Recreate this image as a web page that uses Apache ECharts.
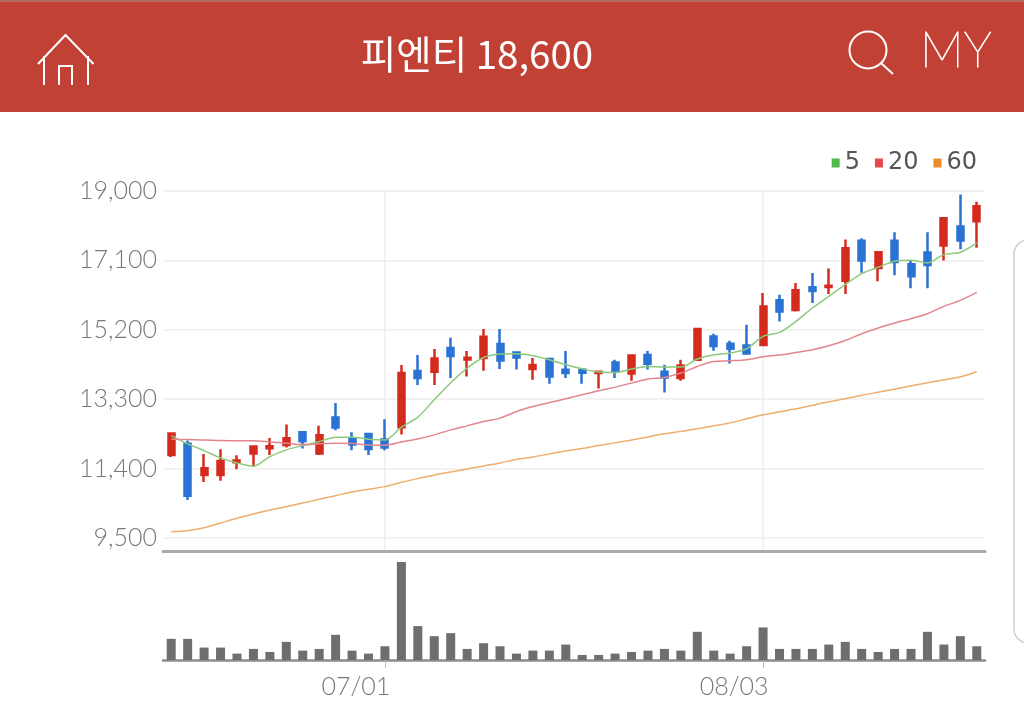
<!DOCTYPE html>
<html>
<head>
<meta charset="utf-8">
<style>
  html, body { margin: 0; padding: 0; background: #fff; }
  #chart { width: 1024px; height: 705px; }
</style>
<script src="https://cdn.jsdelivr.net/npm/echarts@6/dist/echarts.min.js"></script>
</head>
<body>
<div id="chart"></div>
<script>
const dates = [
  '06/12','06/15','06/16','06/17','06/18','06/19','06/22','06/23','06/24','06/25','06/26','06/29','06/30',
  '07/01','07/02','07/03','07/06','07/07','07/08','07/09','07/10','07/13','07/14','07/15','07/16','07/17',
  '07/20','07/21','07/22','07/23','07/24','07/27','07/28','07/29','07/30','07/31',
  '08/03','08/04','08/05','08/06','08/07','08/10','08/11','08/12','08/13','08/14','08/17','08/18','08/19','08/20'
]
const tickDates = ['07/01', '08/03']
const priceTicks = [9500, 11400, 13300, 15200, 17100, 19000]

// open, close, low, high
const candles = [
  [11775,12359,11720,12359],[12077,10659,10541,12167],[11226,11410,11035,11802],[11226,11610,11070,11931],
  [11575,11619,11383,11767],[11811,12002,11454,12002],[11959,12013,11775,12241],[12049,12233,11975,12606],
  [12397,12150,11948,12397],[11811,12315,11775,12570],[12798,12524,12452,13193],[12213,12057,11904,12397],
  [12350,11939,11775,12350],[12194,11975,11904,12754],[12534,14015,12332,14234],[14070,13878,13686,14509],
  [14051,14415,13686,14673],[14700,14481,13878,14983],[14388,14435,13922,14618],[14426,15011,14078,15221],
  [14810,14361,14125,15221],[14580,14443,14114,14580],[14125,14234,13831,14426],[14399,13922,13722,14399],
  [14106,14015,13878,14618],[14106,14023,13722,14152],[14015,14051,13593,14078],[14306,14078,13878,14380],
  [14004,14498,13804,14498],[14509,14270,14114,14618],[14051,13895,13483,14243],[13878,14223,13804,14380],
  [14380,15221,14361,15221],[15019,14755,14627,15093],[14818,14681,14278,14901],[14772,14553,14553,15339],
  [14783,15841,14764,16209],[16006,15704,15430,16162],[15743,16280,15704,16483],[16362,16263,15934,16757],
  [16373,16409,16181,16875],[16546,17432,16181,17670],[17635,17094,16765,17706],[16894,17322,16527,17360],
  [17635,17059,16691,17870],[16993,16664,16335,17094],[17314,16977,16335,17870],[17506,18254,17094,18254],
  [18027,17643,17404,18904],[18172,18583,17443,18704]
]
const ma5 = [
  12304,12077,11893,11693,11556,11465,11728,11912,12030,12140,12260,12260,12206,12186,12534,12809,13283,
  13749,14152,14443,14536,14544,14490,14380,14243,14133,14043,14032,14125,14196,14180,14180,14399,
  14517,14564,14681,15019,15128,15430,15797,16116,16436,16738,16911,17075,17103,17031,17259,17322,17580
]
const ma20 = [
  12205,12194,12186,12167,12159,12159,12131,12096,12057,12077,12096,12085,12049,12041,12131,12213,12323,
  12460,12570,12688,12781,12962,13099,13209,13310,13420,13530,13631,13741,13850,13894,14015,14196,
  14333,14352,14380,14462,14509,14580,14654,14764,14909,15093,15249,15386,15504,15641,15841,16006,16225
]
const ma60 = [
  9672,9699,9782,9910,10039,10157,10267,10357,10459,10560,10659,10760,10834,10906,11026,11125,11226,
  11309,11391,11473,11556,11651,11720,11802,11884,11953,12035,12104,12186,12268,12351,12419,12488,
  12570,12652,12762,12872,12954,13036,13132,13228,13310,13406,13489,13571,13667,13749,13831,13914,14051
]
const volumes = [
  63,63,37,37,19,33,24,54,28,33,75,28,19,41,292,101,71,80,33,50,41,19,28,28,46,
  15,15,19,24,28,33,28,84,28,19,41,97,33,33,33,46,54,33,24,33,33,84,46,71,41
]

const LIGHT_FONT = 'Lato'
const isTick = (i, name) => tickDates.includes(name)

const chart = echarts.init(document.getElementById('chart'), null, { renderer: 'canvas' })

const lineSeries = (name, data, color) => ({
  name: name,
  type: 'line',
  xAxisIndex: 0,
  yAxisIndex: 0,
  data: data,
  smooth: 0.3,
  symbol: 'none',
  lineStyle: { width: 1.5, color: color },
  itemStyle: { color: color },
  z: 3
})

chart.setOption({
  animation: false,
  backgroundColor: '#fff',
  title: {
    text: '피엔티 18,600',
    left: 472,
    top: 30,
    textAlign: 'center',
    textStyle: { color: '#fff', fontFamily: '"Noto Sans CJK KR"', fontWeight: 400, fontSize: 38.5 }
  },
  legend: {
    data: [
      { name: '5', itemStyle: { color: '#4fba4a' } },
      { name: '20', itemStyle: { color: '#e8474f' } },
      { name: '60', itemStyle: { color: '#f08c28' } }
    ],
    top: 146,
    right: 42,
    icon: 'rect',
    itemWidth: 8,
    itemHeight: 9,
    itemGap: 15,
    textStyle: { color: '#555', fontFamily: 'DejaVu Sans', fontSize: 24 }
  },
  grid: [
    { left: 163, right: 39, top: 191, bottom: 154 },
    { left: 163, right: 39, top: 562, bottom: 45 }
  ],
  xAxis: [
    {
      type: 'category',
      gridIndex: 0,
      data: dates,
      axisLine: { lineStyle: { color: '#aaa', width: 3 } },
      axisTick: { show: false },
      axisLabel: { show: false },
      splitLine: { show: true, interval: isTick, alignWithLabel: true, lineStyle: { color: '#ececf0', width: 1.5 } }
    },
    {
      type: 'category',
      gridIndex: 1,
      data: dates,
      axisLine: { lineStyle: { color: '#8c8c8c', width: 2.5 } },
      axisTick: { show: true, interval: isTick, alignWithLabel: true, length: 8, lineStyle: { color: '#bbb', width: 1 } },
      axisLabel: {
        interval: isTick,
        margin: 14,
        padding: [0, 58, 0, 0],
        color: '#777',
        fontFamily: LIGHT_FONT,
        fontWeight: 300,
        fontSize: 25
      }
    }
  ],
  yAxis: [
    {
      type: 'value',
      gridIndex: 0,
      min: 9144,
      max: 19000,
      axisLine: { show: false },
      axisTick: { show: false, customValues: priceTicks },
      axisLabel: {
        customValues: priceTicks,
        margin: 6,
        color: '#777',
        fontFamily: LIGHT_FONT,
        fontWeight: 300,
        fontSize: 25,
        formatter: v => v.toLocaleString('en-US')
      },
      splitLine: { show: true, lineStyle: { color: '#eeeeee', width: 1.5 } }
    },
    {
      type: 'value',
      gridIndex: 1,
      min: 0,
      max: 292,
      show: false
    }
  ],
  series: [
    {
      name: 'price',
      type: 'candlestick',
      xAxisIndex: 0,
      yAxisIndex: 0,
      data: candles,
      barWidth: 6.5,
      itemStyle: {
        color: '#d52a1e',
        color0: '#2a72d4',
        borderColor: '#d52a1e',
        borderColor0: '#2a72d4',
        borderWidth: 2.5
      },
      z: 2
    },
    lineSeries('5', ma5, '#8cc97c'),
    lineSeries('20', ma20, '#e2868e'),
    lineSeries('60', ma60, '#f0ae6c'),
    {
      name: 'volume',
      type: 'bar',
      xAxisIndex: 1,
      yAxisIndex: 1,
      data: volumes,
      barWidth: 9,
      itemStyle: { color: '#6e6e6e' }
    }
  ],
  graphic: [
    { type: 'rect', z: -1, silent: true, shape: { x: 0, y: 0, width: 1024, height: 112 }, style: { fill: '#c24135' } },
    { type: 'rect', z: -1, silent: true, shape: { x: 0, y: 0, width: 1024, height: 2 }, style: { fill: '#b06a5e' } },
    // home icon
    { type: 'polyline', silent: true, shape: { points: [[38, 64], [65.5, 35], [93.5, 64]] }, style: { stroke: '#fff', lineWidth: 2, fill: null } },
    { type: 'polyline', silent: true, shape: { points: [[44, 56], [44, 85]] }, style: { stroke: '#fff', lineWidth: 2, fill: null } },
    { type: 'polyline', silent: true, shape: { points: [[88, 56], [88, 85]] }, style: { stroke: '#fff', lineWidth: 2, fill: null } },
    { type: 'polyline', silent: true, shape: { points: [[59, 85], [59, 66], [72, 66], [72, 85]] }, style: { stroke: '#fff', lineWidth: 2, fill: null } },
    // search icon
    { type: 'circle', silent: true, shape: { cx: 868, cy: 50, r: 18.5 }, style: { stroke: '#fff', lineWidth: 2, fill: null } },
    { type: 'line', silent: true, shape: { x1: 881, y1: 63, x2: 893, y2: 74 }, style: { stroke: '#fff', lineWidth: 2 } },
    { type: 'text', silent: true, x: 920, y: 27, style: { text: 'MY', fill: '#fff', stroke: '#fff', lineWidth: 0.9, font: '100 49px Lato' } },
    // card edge on the right
    { type: 'rect', silent: true, shape: { x: 1014, y: 240, width: 40, height: 403, r: 14 }, style: { fill: '#fff', stroke: '#d0d0d0', lineWidth: 1.5 } }
  ]
})
</script>
</body>
</html>
